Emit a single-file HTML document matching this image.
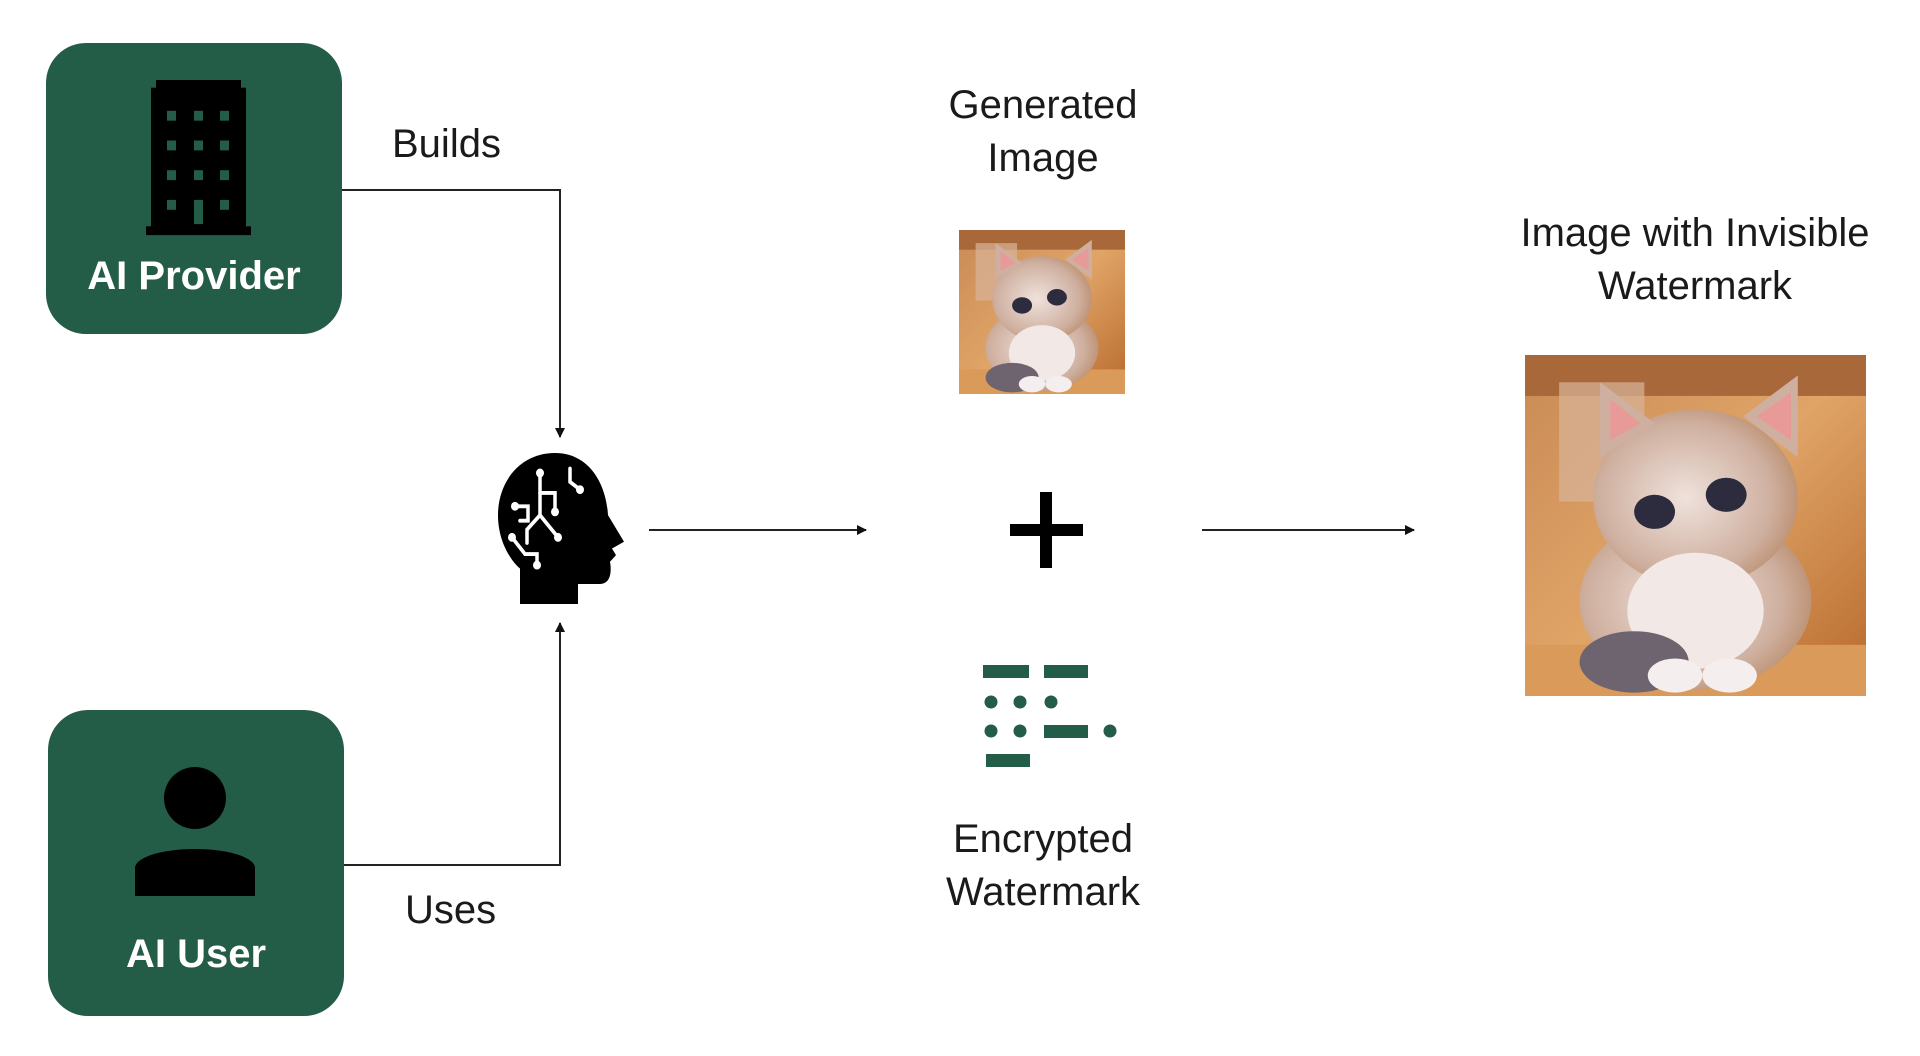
<!DOCTYPE html>
<html><head><meta charset="utf-8"><style>
html,body{margin:0;padding:0;background:#fff;}
body{width:1920px;height:1056px;position:relative;overflow:hidden;font-family:"Liberation Sans",sans-serif;}
.t{position:absolute;color:#1a1a1a;font-size:40px;text-align:center;line-height:53px;white-space:nowrap;}
.box{position:absolute;background:#235c47;border-radius:40px;}
.bl{position:absolute;color:#fff;font-weight:bold;font-size:40px;line-height:48px;width:100%;text-align:center;}
svg{position:absolute;left:0;top:0;}
</style></head><body>
<svg width="1920" height="1056" viewBox="0 0 1920 1056">
<defs>
<marker id="a" markerWidth="10" markerHeight="10" refX="9" refY="5" orient="auto" markerUnits="userSpaceOnUse">
<path d="M0,0 L10,5 L0,10 z" fill="#111"/></marker>
<linearGradient id="bg" x1="0" y1="0" x2="1" y2="1"><stop offset="0" stop-color="#c98a55"/><stop offset="0.5" stop-color="#e0a467"/><stop offset="1" stop-color="#b86a2c"/></linearGradient>
<radialGradient id="fur" cx="0.45" cy="0.5" r="0.6"><stop offset="0" stop-color="#efe2dc"/><stop offset="0.7" stop-color="#cfb0a0"/><stop offset="1" stop-color="#b88a68"/></radialGradient>
<g id="cat">
<rect x="0" y="0" width="100" height="100" fill="url(#bg)"/>
<rect x="0" y="0" width="100" height="12" fill="#a8683a"/>
<rect x="10" y="8" width="25" height="35" fill="#d9b49a" opacity="0.7"/>
<rect x="0" y="85" width="100" height="15" fill="#d99a5a"/>
<ellipse cx="50" cy="72" rx="34" ry="26" fill="url(#fur)"/>
<ellipse cx="50" cy="42" rx="30" ry="26" fill="url(#fur)"/>
<path d="M22,30 L22,8 L38,20 z" fill="#cfb0a0"/><path d="M64,18 L80,6 L80,30 z" fill="#cfb0a0"/>
<path d="M25,25 L25,13 L34,20 z" fill="#e79a98"/><path d="M68,18 L78,11 L78,25 z" fill="#e79a98"/>
<ellipse cx="50" cy="75" rx="20" ry="17" fill="#f2e8e6"/>
<ellipse cx="38" cy="46" rx="6" ry="5" fill="#2c2c3e"/><ellipse cx="59" cy="41" rx="6" ry="5" fill="#2c2c3e"/>
<ellipse cx="32" cy="90" rx="16" ry="9" fill="#6d6470"/>
<ellipse cx="44" cy="94" rx="8" ry="5" fill="#f4eeee"/><ellipse cx="60" cy="94" rx="8" ry="5" fill="#f4eeee"/>
</g>
</defs>
<!-- connectors -->
<polyline points="342,190 560,190 560,437" fill="none" stroke="#222" stroke-width="2" marker-end="url(#a)"/>
<polyline points="344,865 560,865 560,623" fill="none" stroke="#222" stroke-width="2" marker-end="url(#a)"/>
<line x1="649" y1="530" x2="866" y2="530" stroke="#222" stroke-width="2" marker-end="url(#a)"/>
<line x1="1202" y1="530" x2="1414" y2="530" stroke="#222" stroke-width="2" marker-end="url(#a)"/>
<!-- head -->
<g transform="translate(0,453) scale(1,1.11) translate(0,-414)">
<path d="M555,414 C520,414 498,440 498,470 C498,495 512,512 520,518 L520,550 L578,550 L578,532 L600,532 C610,532 612,522 610,512 L616,506 L612,500 L624,494 L608,470 C606,440 588,414 555,414 z" fill="#000"/>
<g stroke="#fff" stroke-width="3.5" fill="none" stroke-linecap="round">
<path d="M540,432 L540,470 L527,483 L527,495"/>
<path d="M540,450 L555,450 L555,467"/>
<path d="M515,462 L528,462 L528,475 L520,475"/>
<path d="M512,490 L525,505 L537,505 L537,515"/>
<path d="M540,470 L558,490"/>
<path d="M570,428 L570,440 L580,447"/>
</g>
<g fill="#fff"><circle cx="540" cy="432" r="4"/><circle cx="555" cy="467" r="4"/><circle cx="515" cy="462" r="4"/><circle cx="512" cy="490" r="4"/><circle cx="537" cy="515" r="4"/><circle cx="558" cy="490" r="4"/><circle cx="580" cy="447" r="4"/></g>
</g>
<!-- plus -->
<rect x="1010" y="524" width="73" height="12" fill="#000"/>
<rect x="1040" y="492" width="12" height="76" fill="#000"/>
<!-- watermark icon -->
<g fill="#235c47">
<rect x="983" y="665" width="46" height="13"/><rect x="1044" y="665" width="44" height="13"/>
<circle cx="991" cy="702" r="6.5"/><circle cx="1020" cy="702" r="6.5"/><circle cx="1051" cy="702" r="6.5"/>
<circle cx="991" cy="731" r="6.5"/><circle cx="1020" cy="731" r="6.5"/><rect x="1044" y="725" width="44" height="13"/><circle cx="1110" cy="731" r="6.5"/>
<rect x="986" y="754" width="44" height="13"/>
</g>
<!-- cats -->
<use href="#cat" transform="translate(959,230) scale(1.66,1.64)"/>
<use href="#cat" transform="translate(1525,355) scale(3.41,3.41)"/>
</svg>
<div class="box" style="left:46px;top:43px;width:296px;height:291px;"><div class="bl" style="top:209px;">AI Provider</div></div>
<div class="box" style="left:48px;top:710px;width:296px;height:306px;"><div class="bl" style="top:220px;">AI User</div></div>
<svg width="1920" height="1056" viewBox="0 0 1920 1056">
<g transform="translate(0,80) scale(1,1.1) translate(0,-73)">
<g fill="#000">
<rect x="151" y="80" width="95" height="128"/><rect x="156" y="73" width="85" height="10"/><rect x="146" y="206" width="105" height="8"/>
</g>
<g fill="#235c47">
<rect x="167" y="101" width="9" height="9"/><rect x="194" y="101" width="9" height="9"/><rect x="220" y="101" width="9" height="9"/>
<rect x="167" y="128" width="9" height="9"/><rect x="194" y="128" width="9" height="9"/><rect x="220" y="128" width="9" height="9"/>
<rect x="167" y="155" width="9" height="9"/><rect x="194" y="155" width="9" height="9"/><rect x="220" y="155" width="9" height="9"/>
<rect x="167" y="182" width="9" height="9"/><rect x="194" y="182" width="9" height="22"/><rect x="220" y="182" width="9" height="9"/>
</g>
</g>
<circle cx="195" cy="798" r="31" fill="#000"/>
<path d="M135,896 L135,868 C135,858 160,849 195,849 C230,849 255,858 255,868 L255,896 z" fill="#000"/>
</svg>
<div class="t" style="left:392px;top:118px;">Builds</div>
<div class="t" style="left:405px;top:884px;">Uses</div>
<div class="t" style="left:893px;top:79px;width:300px;">Generated<br>Image</div>
<div class="t" style="left:893px;top:813px;width:300px;">Encrypted<br>Watermark</div>
<div class="t" style="left:1445px;top:207px;width:500px;">Image with Invisible<br>Watermark</div>
</body></html>
